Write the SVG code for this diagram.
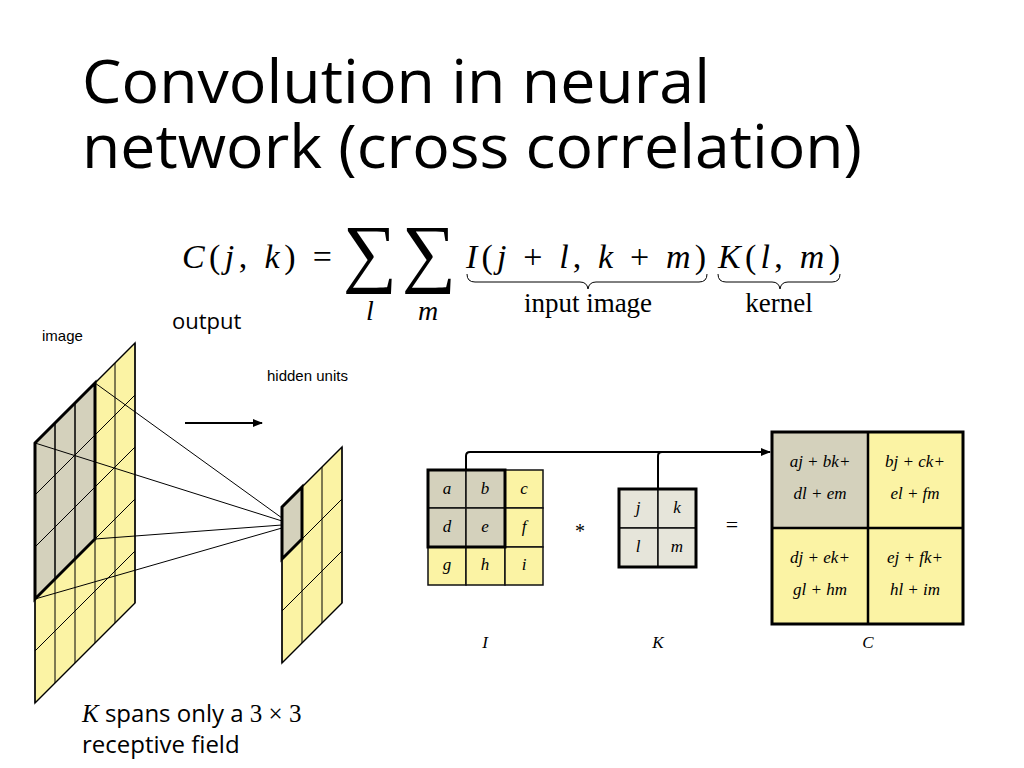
<svg xmlns="http://www.w3.org/2000/svg" width="1024" height="768" viewBox="0 0 1024 768">
<defs>
<style>
.t{font-family:"Open Sans","Noto Sans",sans-serif;fill:#000}
.h{font-family:"Liberation Sans",Arial,sans-serif;fill:#000}
.m{font-family:"Liberation Serif","DejaVu Serif",serif;font-style:italic;fill:#000}
.r{font-family:"Liberation Serif","DejaVu Serif",serif;fill:#000}
.y{fill:#fbf3a4;stroke:#111;stroke-width:1.5}
.g{fill:#d4d1bc;stroke:#111;stroke-width:1.5}
.k{fill:#e6e5da;stroke:#111;stroke-width:1.5}
.b{fill:none;stroke:#000;stroke-width:3}
.ln{stroke:#000;stroke-width:1;fill:none}
.cl{font-family:"Liberation Serif","DejaVu Serif",serif;font-style:italic;font-size:17px;text-anchor:middle}
</style>
<marker id="ah" markerWidth="10" markerHeight="8" refX="9" refY="4" orient="auto" markerUnits="userSpaceOnUse"><path d="M0,0 L10,4 L0,8 Z" fill="#000"/></marker>
</defs>
<rect width="1024" height="768" fill="#fff"/>
<g id="title">
<text class="t" x="82" y="103" font-size="60" textLength="628" lengthAdjust="spacingAndGlyphs">Convolution in neural</text>
<text class="t" x="82" y="168" font-size="60" textLength="780" lengthAdjust="spacingAndGlyphs">network (cross correlation)</text>
</g>
<g id="formula">
<text class="r" x="182" y="268" font-size="34" textLength="150" lengthAdjust="spacing"><tspan class="m">C</tspan>(<tspan class="m">j</tspan>, <tspan class="m">k</tspan>) =</text>
<text class="r" x="343" y="278" font-size="76">∑</text>
<text class="r" x="402" y="278" font-size="76">∑</text>
<text class="m" x="366" y="320" font-size="28">l</text>
<text class="m" x="418" y="320" font-size="28">m</text>
<text class="r" x="466" y="268" font-size="34" textLength="240" lengthAdjust="spacing"><tspan class="m">I</tspan>(<tspan class="m">j</tspan> + <tspan class="m">l</tspan>, <tspan class="m">k</tspan> + <tspan class="m">m</tspan>)</text>
<text class="r" x="718" y="268" font-size="34" textLength="122" lengthAdjust="spacing"><tspan class="m">K</tspan>(<tspan class="m">l</tspan>, <tspan class="m">m</tspan>)</text>
<path class="ln" stroke-width="1.5" d="M467,274 q0,8 8,8 H580 q7,0 8,7 q1,-7 8,-7 H699 q8,0 8,-8"/>
<path class="ln" stroke-width="1.5" d="M718,274 q0,8 8,8 H772 q7,0 8,7 q1,-7 8,-7 H832 q8,0 8,-8"/>
<text class="r" x="588" y="312" font-size="27" text-anchor="middle">input image</text>
<text class="r" x="779" y="312" font-size="27" text-anchor="middle">kernel</text>
</g>
<g id="labels">
<text class="t" x="172" y="329" font-size="22">output</text>
<text class="h" x="42" y="341" font-size="15">image</text>
<svg x="0" y="0" width="353" height="768"><text class="h" x="267" y="381" font-size="15">hidden units</text></svg>
</g>
<g id="image-grid">
<path class="y" d="M35,443 L135,343 L135,603 L35,703 Z"/>
<path class="g" d="M35,443 L95,383 L95,539 L35,599 Z"/>
<path class="ln" stroke="#333" d="M55,423V683 M75,403V663 M95,383V643 M115,363V623 M35,495L135,395 M35,547L135,447 M35,599L135,499 M35,651L135,551"/>
<path class="ln" stroke="#888" d="M55,423V579 M75,403V559 M35,495L95,435 M35,547L95,487"/>
<path class="b" d="M35,443 L95,383 L95,539 L35,599 Z" stroke-width="2.5"/>
<path class="ln" stroke-width="2" d="M35,443 L135,343 L135,603 L35,703 Z"/>
</g>
<g id="hidden-grid">
<path class="y" d="M282,507 L342,447 L342,603 L282,663 Z"/>
<path class="g" d="M282,507 L302,487 L302,539 L282,559 Z"/>
<path class="ln" d="M302,487V643 M322,467V623 M282,559L342,499 M282,611L342,551"/>
<path class="b" stroke-width="2.5" d="M282,507 L302,487 L302,539 L282,559 Z"/>
<path class="ln" stroke-width="2" d="M282,507 L342,447 L342,603 L282,663 Z"/>
</g>
<g id="connectors">
<path class="ln" d="M95,383 L282,518 M35,443 L282,521 M95,539 L282,525 M35,599 L282,528"/>
<line x1="185" y1="423" x2="262" y2="423" stroke="#000" stroke-width="2" marker-end="url(#ah)"/>
<path d="M466,472 V456 q0,-4 4,-4 H770" fill="none" stroke="#000" stroke-width="2" marker-end="url(#ah)"/>
<path d="M658,489 V456 q0,-4 4,-4" fill="none" stroke="#000" stroke-width="2"/>
</g>
<g id="matrix-I">
<rect class="g" x="428" y="470" width="38" height="38"/><rect class="g" x="466" y="470" width="39" height="38"/><rect class="y" x="505" y="470" width="38" height="38"/>
<rect class="g" x="428" y="508" width="38" height="39"/><rect class="g" x="466" y="508" width="39" height="39"/><rect class="y" x="505" y="508" width="38" height="39"/>
<rect class="y" x="428" y="547" width="38" height="38"/><rect class="y" x="466" y="547" width="39" height="38"/><rect class="y" x="505" y="547" width="38" height="38"/>
<rect class="b" x="428" y="470" width="77" height="77" stroke-width="2.5"/>
<text class="cl" x="447" y="494">a</text><text class="cl" x="485" y="494">b</text><text class="cl" x="524" y="494">c</text>
<text class="cl" x="447" y="532">d</text><text class="cl" x="485" y="532">e</text><text class="cl" x="524" y="532">f</text>
<text class="cl" x="447" y="570">g</text><text class="cl" x="485" y="570">h</text><text class="cl" x="524" y="570">i</text>
<text class="cl" x="485" y="648">I</text>
</g>
<text class="r" x="580" y="538" font-size="20" text-anchor="middle">*</text>
<g id="matrix-K">
<rect class="k" x="619" y="489" width="39" height="39"/><rect class="k" x="658" y="489" width="38" height="39"/>
<rect class="k" x="619" y="528" width="39" height="39"/><rect class="k" x="658" y="528" width="38" height="39"/>
<rect class="b" x="619" y="489" width="77" height="78" stroke-width="2.5"/>
<text class="cl" x="638" y="513">j</text><text class="cl" x="677" y="513">k</text>
<text class="cl" x="638" y="552">l</text><text class="cl" x="677" y="552">m</text>
<text class="cl" x="658" y="648">K</text>
</g>
<text class="r" x="732" y="532" font-size="22" text-anchor="middle">=</text>
<g id="matrix-C">
<rect class="g" x="772" y="432" width="96" height="96"/><rect class="y" x="868" y="432" width="95" height="96"/>
<rect class="y" x="772" y="528" width="96" height="96"/><rect class="y" x="868" y="528" width="95" height="96"/>
<rect class="b" x="772" y="432" width="191" height="192" stroke-width="2"/>
<path d="M868,432V624 M772,528H963" stroke="#000" stroke-width="2.5"/>
<text class="cl" x="820" y="467">aj + bk+</text><text class="cl" x="820" y="499">dl + em</text>
<text class="cl" x="915" y="467">bj + ck+</text><text class="cl" x="915" y="499">el + fm</text>
<text class="cl" x="820" y="563">dj + ek+</text><text class="cl" x="820" y="595">gl + hm</text>
<text class="cl" x="915" y="563">ej + fk+</text><text class="cl" x="915" y="595">hl + im</text>
<text class="cl" x="868" y="648">C</text>
</g>
<g id="caption">
<text x="82" y="722" font-size="24"><tspan class="m" font-size="25">K</tspan><tspan class="t"> spans only a </tspan><tspan class="r" font-size="25">3 × 3</tspan></text>
<text class="t" x="82" y="753" font-size="24">receptive field</text>
</g>
</svg>
